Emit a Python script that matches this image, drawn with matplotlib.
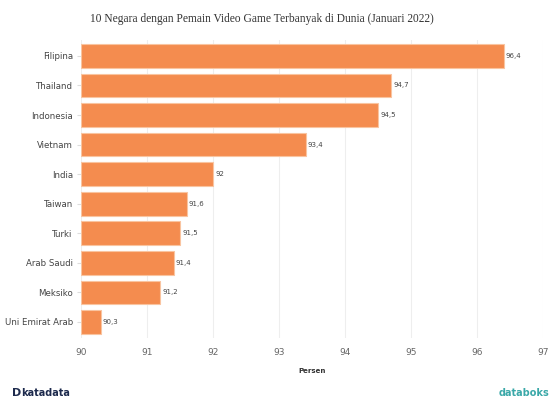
import matplotlib.pyplot as plt

negara = ["Filipina", "Thailand", "Indonesia", "Vietnam", "India",
          "Taiwan", "Turki", "Arab Saudi", "Meksiko", "Uni Emirat Arab"]
persen = [96.4, 94.7, 94.5, 93.4, 92, 91.6, 91.5, 91.4, 91.2, 90.3]
label_nilai = ["96,4", "94,7", "94,5", "93,4", "92", "91,6", "91,5", "91,4", "91,2", "90,3"]
xticks = [90, 91, 92, 93, 94, 95, 96, 97]

plt.rcParams["font.family"] = "DejaVu Sans"

fig = plt.figure(figsize=(5.52, 4.05), dpi=100)
ax = fig.add_axes([0.147, 0.165, 0.837, 0.737])

y = list(range(len(negara)))[::-1]
ax.barh(y, [p - 90 for p in persen], left=90, height=0.8,
        color="#F48C4F", edgecolor="#F9C4A0", linewidth=0.8, zorder=2)
for yi, p, t in zip(y, persen, label_nilai):
    ax.text(p + 0.03, yi, t, va="center", ha="left", fontsize=5, color="#444444")

ax.set_xlim(90, 97)
ax.set_ylim(-0.55, 9.55)
ax.set_xticks(xticks)
ax.set_yticks(y)
ax.set_yticklabels(negara)
ax.tick_params(axis="x", length=0, labelsize=6.5, labelcolor="#666666", pad=7)
ax.tick_params(axis="y", length=3, color="#dddddd", labelsize=6.2, labelcolor="#444444", pad=3)
ax.grid(axis="x", color="#eeeeee", linewidth=0.8, zorder=0)
for s in ax.spines.values():
    s.set_visible(False)
ax.set_xlabel("Persen", fontsize=5, fontweight="bold", color="#333333", labelpad=8)

fig.text(0.475, 0.953, "10 Negara dengan Pemain Video Game Terbanyak di Dunia (Januari 2022)",
         ha="center", va="center", fontsize=8.3, family="Liberation Serif", color="#333333")
fig.text(0.022, 0.018, "D", fontsize=8, fontweight="bold", color="#1d2a4d", va="bottom")
fig.text(0.038, 0.018, "katadata", fontsize=7, fontweight="bold", color="#1d2a4d", va="bottom")
fig.text(0.995, 0.018, "databoks", fontsize=7, fontweight="bold", color="#3aa8a8", va="bottom", ha="right")

fig.savefig("out.png", dpi=100, facecolor="white")
